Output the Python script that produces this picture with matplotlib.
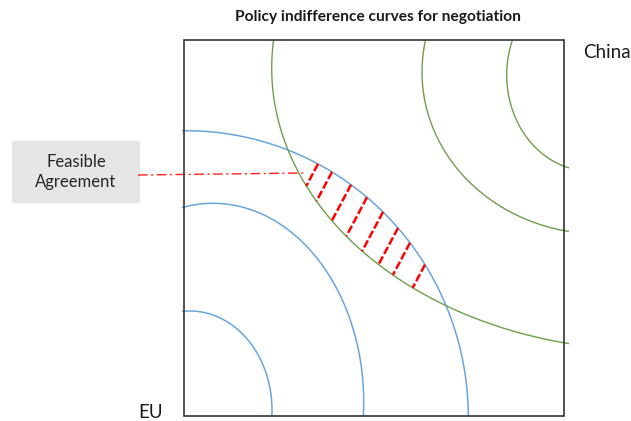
import numpy as np
import matplotlib
matplotlib.use('Agg')
from matplotlib import pyplot as plt
from matplotlib.patches import Rectangle

plt.rcParams['font.family'] = ['Lato', 'DejaVu Sans']

# everything is laid out in pixel units of the 631x421 canvas (y downwards)
box = [184, 40, 564, 416]  # left, top, right, bottom

# EU indifference curves: ellipses centred near the bottom-left corner (cx, cy, a, b)
eu_curves = [(190, 410, 82, 99), (213, 402, 150.7, 198.7), (186, 417, 282.3, 286.3)]
# China indifference curves: ellipses centred near the top-right corner
china_curves = [(590, 75, 83.3, 96), (600, 72, 178, 162), (650, 68, 378.3, 282.2)]

# x positions (on the outer EU curve) where the feasible-zone hatching starts
hatch_x = [318, 332, 351, 367, 383, 398, 410, 425]
hatch_angle = 62  # degrees below horizontal, leaning left

blue = '#6aa5dc'
green = '#6f9e4c'

fig = plt.figure(figsize=(6.31, 4.21), dpi=100)
ax = fig.add_axes([0, 0, 1, 1])
ax.set_xlim(0, 631)
ax.set_ylim(421, 0)
ax.axis('off')

clip = Rectangle((box[0] - 2, box[1]), box[2] - box[0] + 7, box[3] - box[1],
                 transform=ax.transData, facecolor='none', edgecolor='none')
ax.add_patch(clip)

t = np.linspace(-np.pi / 2, np.pi, 600)
for cx, cy, a, b in eu_curves:
    line, = ax.plot(cx + a * np.cos(t), cy - b * np.sin(t), color=blue, lw=1.1)
    line.set_clip_path(clip)
for cx, cy, a, b in china_curves:
    line, = ax.plot(cx - a * np.cos(t), cy + b * np.sin(t), color=green, lw=1.0)
    line.set_clip_path(clip)

ax.add_patch(Rectangle((box[0], box[1]), box[2] - box[0], box[3] - box[1],
                       facecolor='none', edgecolor='#333333', lw=1.2, zorder=5))

# hatching between the outer EU curve and the outer China curve
ecx, ecy, ea, eb = eu_curves[-1]
gcx, gcy, ga, gb = china_curves[-1]
ux = -np.cos(np.radians(hatch_angle))
uy = np.sin(np.radians(hatch_angle))
for x0 in hatch_x:
    y0 = ecy - eb * np.sqrt(1 - ((x0 - ecx) / ea) ** 2)
    A = ux ** 2 / ga ** 2 + uy ** 2 / gb ** 2
    B = 2 * (ux * (x0 - gcx) / ga ** 2 + uy * (y0 - gcy) / gb ** 2)
    C = ((x0 - gcx) / ga) ** 2 + ((y0 - gcy) / gb) ** 2 - 1
    s = (-B + np.sqrt(B ** 2 - 4 * A * C)) / (2 * A)
    ax.plot([x0, x0 + s * ux], [y0, y0 + s * uy], color='#ff0000', lw=1.8,
            linestyle=(0, (3.2, 1.1)), solid_capstyle='butt', zorder=4)

# label for the feasible zone
ax.add_patch(Rectangle((12, 141), 128, 62, facecolor='#e7e6e6', edgecolor='none'))
ax.text(76, 172, 'Feasible\nAgreement', ha='center', va='center', fontsize=12,
        color='#262626', linespacing=1.35)
ax.plot([138, 305], [175, 173], color='#ff2020', lw=1.0, dashes=(7, 2.5, 1.5, 2.5))

ax.text(378, 17, 'Policy indifference curves for negotiation', ha='center', va='center',
        fontsize=11.2, fontweight='bold', color='#1a1a1a')
ax.text(583, 52, 'China', ha='left', va='center', fontsize=13.5, color='#1a1a1a')
ax.text(138, 413, 'EU', ha='left', va='center', fontsize=13.5, color='#1a1a1a')

fig.savefig('out.png', dpi=100)
